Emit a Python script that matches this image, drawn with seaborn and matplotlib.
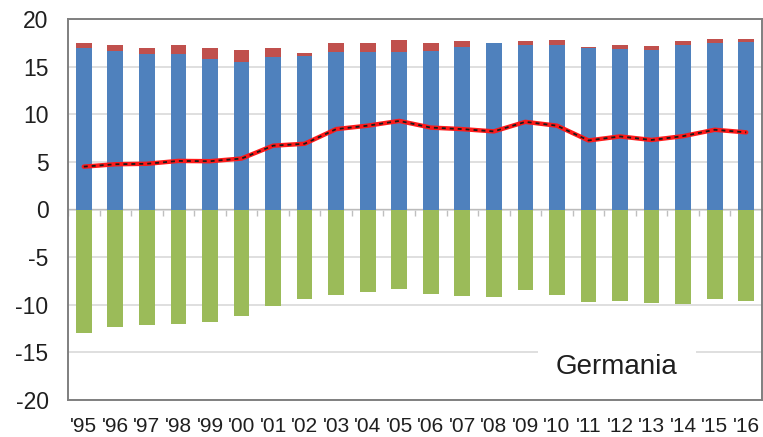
import matplotlib
matplotlib.use("Agg")
import matplotlib.pyplot as plt
import seaborn as sns
import numpy as np
import pandas as pd

years = ["'95", "'96", "'97", "'98", "'99", "'00", "'01", "'02", "'03", "'04", "'05",
         "'06", "'07", "'08", "'09", "'10", "'11", "'12", "'13", "'14", "'15", "'16"]
blue = [17.0, 16.6, 16.3, 16.3, 15.8, 15.5, 16.0, 16.1, 16.5, 16.5, 16.55,
        16.6, 17.1, 17.5, 17.3, 17.3, 17.0, 16.85, 16.75, 17.3, 17.5, 17.55]
red = [0.5, 0.65, 0.7, 1.0, 1.2, 1.25, 1.0, 0.3, 1.0, 1.0, 1.25,
       0.9, 0.6, -0.1, 0.4, 0.5, 0.05, 0.45, 0.45, 0.4, 0.45, 0.4]
green = [-12.97, -12.3, -12.1, -12.05, -11.8, -11.2, -10.16, -9.4, -9.0, -8.65, -8.37,
         -8.86, -9.1, -9.1, -8.47, -8.93, -9.67, -9.63, -9.77, -9.9, -9.42, -9.63]
line = [4.5, 4.75, 4.8, 5.1, 5.07, 5.35, 6.7, 6.9, 8.44, 8.8, 9.3,
        8.6, 8.44, 8.2, 9.2, 8.8, 7.25, 7.67, 7.3, 7.7, 8.37, 8.1]
title = "Germania"
yticks = [20, 15, 10, 5, 0, -5, -10, -15, -20]

C_BLUE = "#4f81bd"
C_RED = "#c0504d"
C_GREEN = "#9bbb59"

df = pd.DataFrame({"year": years, "blue": blue, "red": red, "green": green, "line": line})
red_bottom = np.where(df["red"] >= 0, df["blue"], 0.0)
green_bottom = np.minimum(df["red"], 0.0)

sns.set_style("white")
plt.rcParams["font.family"] = ["Liberation Sans", "DejaVu Sans"]

fig = plt.figure(figsize=(7.63, 4.37), dpi=100)
ax = fig.add_axes([68 / 763, 37 / 437, 694 / 763, 381 / 437])

kw = dict(width=0.5, linewidth=0, saturation=1, zorder=2)
sns.barplot(data=df, x="year", y="blue", color=C_BLUE, ax=ax, **kw)
sns.barplot(data=df, x="year", y="red", color=C_RED, ax=ax, bottom=red_bottom, **kw)
sns.barplot(data=df, x="year", y="green", color=C_GREEN, ax=ax, bottom=green_bottom, **kw)

pos = np.arange(len(years))
sns.lineplot(x=pos, y=df["line"], color="#ff1a1a", lw=3.2, ax=ax, zorder=4, sort=False)
sns.lineplot(x=pos, y=df["line"], color="#1a1a1a", lw=1.3, ax=ax, zorder=5, sort=False,
             linestyle=(0, (2.2, 2.2)))

ax.set_xlim(-0.5, len(years) - 0.5)
ax.set_ylim(-20, 20)
ax.set_yticks(yticks)
ax.set_yticklabels([str(v) for v in yticks])
ax.yaxis.grid(True, color="#d9d9d9", lw=1.2, zorder=0)
ax.xaxis.grid(False)
ax.set_axisbelow(True)
ax.set_xlabel("")
ax.set_ylabel("")
ax.tick_params(axis="y", length=0, pad=14, labelsize=16.5, labelcolor="#1f1f1f")
ax.tick_params(axis="x", length=0, pad=12, labelsize=15, labelcolor="#1f1f1f")
for lbl in ax.get_xticklabels():
    lbl.set_horizontalalignment("center")

for s in ax.spines.values():
    s.set_visible(True)
    s.set_color("#7f7f7f")
    s.set_linewidth(1.4)
    s.set_zorder(10)

# small category-boundary ticks on the zero line
sec = ax.secondary_xaxis(0.5)
sec.set_xticks(np.arange(len(years) + 1) - 0.5)
sec.set_xticklabels([])
sec.tick_params(axis="x", direction="in", length=5, color="#bfbfbf", width=1)
sec.spines["bottom"].set_color("#d9d9d9")
sec.spines["bottom"].set_linewidth(1.2)

ax.text(0.791, 0.087, title, transform=ax.transAxes, ha="center", va="center",
        fontsize=20, color="#1f1f1f", zorder=6,
        bbox=dict(boxstyle="square,pad=0.65", facecolor="white", edgecolor="none"))

fig.savefig("out.png", dpi=100)
